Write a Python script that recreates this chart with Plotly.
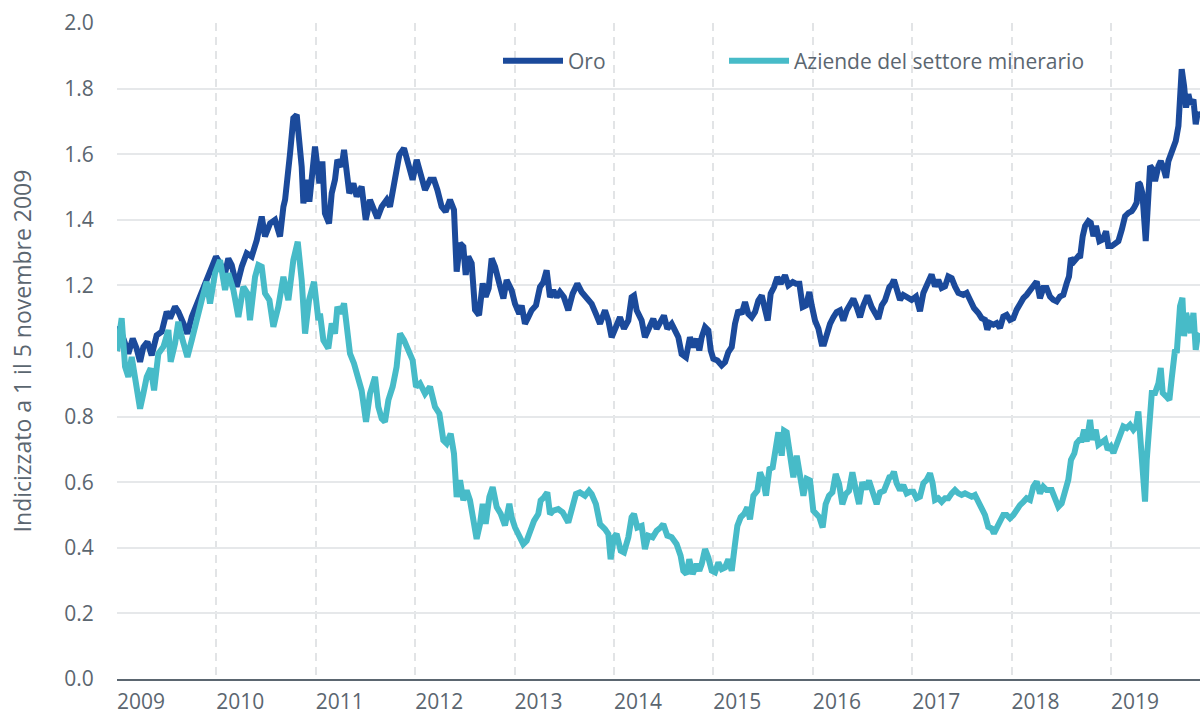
import datetime as dt
import plotly.graph_objects as go

# ---- data (decimal years, index value = 1 on 5 Nov 2009) ----
gold_years = [
    2009.847, 2009.871, 2009.928, 2009.961, 2010.005, 2010.045, 2010.079, 2010.112, 2010.153, 2010.196,
    2010.246, 2010.297, 2010.347, 2010.381, 2010.431, 2010.464, 2010.515, 2010.555, 2010.599, 2010.666,
    2010.716, 2010.766, 2010.817, 2010.843, 2010.884, 2010.934, 2010.967, 2011.001, 2011.051, 2011.102,
    2011.152, 2011.202, 2011.253, 2011.303, 2011.336, 2011.387, 2011.437, 2011.487, 2011.521, 2011.538,
    2011.588, 2011.621, 2011.655, 2011.682, 2011.705, 2011.722, 2011.756, 2011.782, 2011.816, 2011.839,
    2011.883, 2011.913, 2011.939, 2011.980, 2012.007, 2012.040, 2012.064, 2012.107, 2012.131, 2012.157,
    2012.184, 2012.225, 2012.258, 2012.308, 2012.349, 2012.392, 2012.426, 2012.466, 2012.510, 2012.560,
    2012.593, 2012.644, 2012.687, 2012.734, 2012.778, 2012.821, 2012.862, 2012.902, 2012.946, 2012.996,
    2013.036, 2013.070, 2013.113, 2013.153, 2013.197, 2013.237, 2013.264, 2013.298, 2013.331, 2013.355,
    2013.381, 2013.415, 2013.449, 2013.489, 2013.526, 2013.556, 2013.586, 2013.616, 2013.650, 2013.693,
    2013.734, 2013.767, 2013.817, 2013.851, 2013.894, 2013.918, 2013.951, 2013.985, 2014.018, 2014.062,
    2014.102, 2014.136, 2014.169, 2014.203, 2014.236, 2014.270, 2014.303, 2014.343, 2014.387, 2014.431,
    2014.478, 2014.521, 2014.571, 2014.622, 2014.665, 2014.706, 2014.756, 2014.790, 2014.823, 2014.867,
    2014.907, 2014.947, 2014.991, 2015.024, 2015.048, 2015.075, 2015.125, 2015.158, 2015.202, 2015.242,
    2015.276, 2015.316, 2015.349, 2015.383, 2015.427, 2015.460, 2015.494, 2015.527, 2015.571, 2015.611,
    2015.645, 2015.678, 2015.705, 2015.729, 2015.763, 2015.796, 2015.820, 2015.846, 2015.887, 2015.930,
    2015.964, 2015.997, 2016.031, 2016.064, 2016.098, 2016.131, 2016.165, 2016.198, 2016.232, 2016.266,
    2016.299, 2016.333, 2016.366, 2016.393, 2016.423, 2016.457, 2016.490, 2016.524, 2016.567, 2016.601,
    2016.645, 2016.678, 2016.712, 2016.745, 2016.779, 2016.812, 2016.836, 2016.869, 2016.903, 2016.936,
    2016.960, 2016.987, 2017.020, 2017.054, 2017.087, 2017.121, 2017.154, 2017.188, 2017.221, 2017.255,
    2017.288, 2017.322, 2017.355, 2017.396, 2017.439, 2017.473, 2017.506, 2017.540, 2017.573, 2017.617,
    2017.640, 2017.663, 2017.690, 2017.724, 2017.757, 2017.798, 2017.841, 2017.885, 2017.925, 2017.959,
    2017.999, 2018.042, 2018.076, 2018.109, 2018.143, 2018.177, 2018.210, 2018.244, 2018.277, 2018.311,
    2018.361, 2018.395, 2018.428, 2018.468, 2018.512, 2018.545, 2018.579, 2018.602, 2018.629, 2018.663,
    2018.696, 2018.730, 2018.763, 2018.797, 2018.830, 2018.864, 2018.898, 2018.931, 2018.965, 2018.998,
    2019.032, 2019.065, 2019.099, 2019.132, 2019.166, 2019.199, 2019.233, 2019.266, 2019.300, 2019.333,
    2019.367, 2019.401, 2019.424, 2019.444, 2019.474, 2019.518, 2019.535, 2019.562, 2019.586, 2019.619,
    2019.643, 2019.670, 2019.696, 2019.730, 2019.763, 2019.797, 2019.820, 2019.854, 2019.888, 2019.921,
    2019.955, 2019.988, 2020.022, 2020.055, 2020.079, 2020.105, 2020.122, 2020.139, 2020.162, 2020.179,
    2020.196, 2020.213, 2020.240, 2020.267, 2020.290, 2020.324, 2020.347, 2020.374, 2020.401, 2020.424,
    2020.451, 2020.474, 2020.498, 2020.525, 2020.541, 2020.558, 2020.582, 2020.602, 2020.625, 2020.649,
    2020.676, 2020.699, 2020.719, 2020.736,
]
gold_values = [
    1.000, 1.074, 1.023, 0.992, 1.038, 1.007, 0.967, 1.012, 1.028, 0.987,
    1.048, 1.059, 1.120, 1.100, 1.135, 1.120, 1.084, 1.053, 1.104, 1.155,
    1.196, 1.237, 1.267, 1.288, 1.267, 1.237, 1.282, 1.262, 1.196, 1.257,
    1.298, 1.288, 1.338, 1.410, 1.349, 1.389, 1.400, 1.349, 1.440, 1.461,
    1.603, 1.710, 1.720, 1.654, 1.562, 1.450, 1.522, 1.455, 1.573, 1.623,
    1.511, 1.578, 1.420, 1.389, 1.481, 1.522, 1.583, 1.562, 1.613, 1.532,
    1.481, 1.511, 1.471, 1.501, 1.400, 1.461, 1.440, 1.405, 1.440, 1.461,
    1.440, 1.542, 1.598, 1.618, 1.562, 1.522, 1.583, 1.542, 1.491, 1.522,
    1.522, 1.491, 1.440, 1.425, 1.461, 1.430, 1.242, 1.328, 1.318, 1.232,
    1.288, 1.267, 1.125, 1.109, 1.206, 1.165, 1.191, 1.282, 1.257, 1.206,
    1.160, 1.216, 1.185, 1.144, 1.113, 1.139, 1.083, 1.103, 1.124, 1.139,
    1.195, 1.210, 1.246, 1.164, 1.185, 1.164, 1.180, 1.164, 1.124, 1.175,
    1.205, 1.180, 1.164, 1.144, 1.113, 1.083, 1.124, 1.093, 1.042, 1.073,
    1.103, 1.068, 1.093, 1.164, 1.169, 1.124, 1.093, 1.042, 1.078, 1.098,
    1.068, 1.088, 1.108, 1.068, 1.083, 1.063, 1.042, 0.991, 0.981, 1.042,
    1.012, 1.037, 1.002, 1.042, 1.073, 1.063, 1.002, 0.976, 0.971, 0.956,
    0.966, 0.997, 1.012, 1.083, 1.124, 1.113, 1.149, 1.113, 1.103, 1.119,
    1.154, 1.169, 1.129, 1.093, 1.175, 1.195, 1.225, 1.205, 1.231, 1.200,
    1.210, 1.205, 1.205, 1.134, 1.139, 1.180, 1.139, 1.093, 1.068, 1.022,
    1.022, 1.052, 1.083, 1.103, 1.119, 1.124, 1.093, 1.124, 1.139, 1.159,
    1.134, 1.103, 1.139, 1.169, 1.134, 1.113, 1.098, 1.139, 1.154, 1.195,
    1.202, 1.217, 1.182, 1.156, 1.171, 1.161, 1.156, 1.166, 1.121, 1.177,
    1.207, 1.233, 1.197, 1.217, 1.192, 1.197, 1.227, 1.222, 1.197, 1.177,
    1.171, 1.177, 1.156, 1.131, 1.116, 1.100, 1.095, 1.065, 1.085, 1.080,
    1.085, 1.070, 1.105, 1.110, 1.095, 1.100, 1.126, 1.146, 1.161, 1.171,
    1.187, 1.197, 1.212, 1.161, 1.192, 1.192, 1.166, 1.156, 1.151, 1.166,
    1.171, 1.207, 1.227, 1.283, 1.273, 1.289, 1.284, 1.350, 1.381, 1.396,
    1.391, 1.350, 1.381, 1.335, 1.340, 1.365, 1.320, 1.320, 1.330, 1.335,
    1.370, 1.411, 1.421, 1.426, 1.437, 1.452, 1.513, 1.508, 1.482, 1.411,
    1.335, 1.421, 1.564, 1.554, 1.518, 1.564, 1.579, 1.559, 1.528, 1.579,
    1.605, 1.630, 1.640, 1.686, 1.767, 1.859, 1.808, 1.742, 1.783, 1.752,
    1.767, 1.691, 1.727, 1.717,
]

miners_years = [
    2009.847, 2009.894, 2009.928, 2009.961, 2009.995, 2010.029, 2010.079, 2010.112, 2010.146, 2010.186,
    2010.220, 2010.263, 2010.314, 2010.364, 2010.387, 2010.431, 2010.464, 2010.498, 2010.555, 2010.599,
    2010.649, 2010.699, 2010.749, 2010.783, 2010.833, 2010.884, 2010.934, 2010.967, 2011.018, 2011.068,
    2011.118, 2011.159, 2011.185, 2011.236, 2011.269, 2011.303, 2011.336, 2011.380, 2011.420, 2011.470,
    2011.521, 2011.571, 2011.621, 2011.665, 2011.705, 2011.739, 2011.779, 2011.829, 2011.873, 2011.889,
    2011.923, 2011.973, 2012.007, 2012.040, 2012.064, 2012.097, 2012.131, 2012.157, 2012.191, 2012.231,
    2012.275, 2012.308, 2012.352, 2012.392, 2012.443, 2012.476, 2012.510, 2012.543, 2012.577, 2012.620,
    2012.660, 2012.694, 2012.734, 2012.778, 2012.821, 2012.855, 2012.895, 2012.946, 2012.996, 2013.046,
    2013.090, 2013.130, 2013.163, 2013.204, 2013.237, 2013.264, 2013.298, 2013.331, 2013.365, 2013.398,
    2013.432, 2013.465, 2013.499, 2013.526, 2013.556, 2013.593, 2013.626, 2013.667, 2013.707, 2013.750,
    2013.794, 2013.817, 2013.851, 2013.894, 2013.934, 2013.968, 2014.001, 2014.042, 2014.085, 2014.109,
    2014.142, 2014.176, 2014.203, 2014.236, 2014.286, 2014.330, 2014.387, 2014.431, 2014.464, 2014.504,
    2014.555, 2014.595, 2014.622, 2014.665, 2014.706, 2014.756, 2014.790, 2014.813, 2014.846, 2014.873,
    2014.914, 2014.947, 2014.991, 2015.024, 2015.048, 2015.081, 2015.125, 2015.158, 2015.192, 2015.236,
    2015.276, 2015.316, 2015.343, 2015.383, 2015.427, 2015.477, 2015.517, 2015.544, 2015.577, 2015.604,
    2015.638, 2015.678, 2015.705, 2015.729, 2015.763, 2015.796, 2015.830, 2015.863, 2015.897, 2015.930,
    2015.964, 2015.997, 2016.031, 2016.064, 2016.088, 2016.121, 2016.155, 2016.188, 2016.215, 2016.249,
    2016.289, 2016.316, 2016.349, 2016.376, 2016.410, 2016.443, 2016.477, 2016.500, 2016.534, 2016.557,
    2016.584, 2016.618, 2016.651, 2016.685, 2016.718, 2016.752, 2016.785, 2016.819, 2016.852, 2016.886,
    2016.913, 2016.946, 2016.976, 2017.010, 2017.044, 2017.077, 2017.111, 2017.144, 2017.178, 2017.211,
    2017.245, 2017.278, 2017.312, 2017.345, 2017.379, 2017.412, 2017.446, 2017.489, 2017.523, 2017.563,
    2017.617, 2017.640, 2017.663, 2017.690, 2017.724, 2017.757, 2017.791, 2017.824, 2017.858, 2017.891,
    2017.925, 2017.959, 2017.992, 2018.026, 2018.052, 2018.076, 2018.109, 2018.143, 2018.177, 2018.210,
    2018.244, 2018.277, 2018.311, 2018.344, 2018.378, 2018.411, 2018.445, 2018.478, 2018.512, 2018.545,
    2018.579, 2018.612, 2018.646, 2018.669, 2018.696, 2018.730, 2018.763, 2018.797, 2018.830, 2018.864,
    2018.898, 2018.931, 2018.965, 2018.998, 2019.032, 2019.065, 2019.099, 2019.132, 2019.166, 2019.199,
    2019.250, 2019.283, 2019.317, 2019.350, 2019.384, 2019.417, 2019.444, 2019.478, 2019.501, 2019.528,
    2019.552, 2019.576, 2019.602, 2019.636, 2019.659, 2019.693, 2019.720, 2019.753, 2019.787, 2019.814,
    2019.844, 2019.871, 2019.904, 2019.938, 2019.971, 2020.005, 2020.038, 2020.072, 2020.099, 2020.122,
    2020.139, 2020.156, 2020.173, 2020.189, 2020.206, 2020.233, 2020.257, 2020.290, 2020.324, 2020.347,
    2020.367, 2020.401, 2020.434, 2020.458, 2020.491, 2020.508, 2020.525, 2020.541, 2020.565, 2020.582,
    2020.602, 2020.625, 2020.649, 2020.676, 2020.699, 2020.719, 2020.736,
]
miners_values = [
    1.000, 1.100, 0.952, 0.921, 0.982, 0.911, 0.824, 0.870, 0.921, 0.947,
    0.880, 0.992, 1.013, 1.064, 0.967, 1.023, 1.089, 1.043, 0.982, 1.033,
    1.104, 1.155, 1.211, 1.145, 1.237, 1.277, 1.186, 1.237, 1.186, 1.104,
    1.196, 1.176, 1.094, 1.226, 1.262, 1.257, 1.176, 1.155, 1.074, 1.135,
    1.226, 1.155, 1.277, 1.333, 1.216, 1.053, 1.155, 1.211, 1.094, 1.114,
    1.033, 1.008, 1.084, 1.053, 1.135, 1.114, 1.145, 1.074, 0.992, 0.962,
    0.911, 0.880, 0.784, 0.870, 0.921, 0.830, 0.794, 0.784, 0.850, 0.891,
    0.952, 1.053, 1.033, 1.003, 0.972, 0.891, 0.901, 0.870, 0.891, 0.830,
    0.809, 0.728, 0.718, 0.748, 0.687, 0.555, 0.606, 0.545, 0.575, 0.545,
    0.483, 0.427, 0.473, 0.534, 0.473, 0.555, 0.585, 0.524, 0.504, 0.468,
    0.534, 0.493, 0.462, 0.432, 0.411, 0.421, 0.452, 0.482, 0.503, 0.544,
    0.554, 0.569, 0.503, 0.513, 0.518, 0.508, 0.477, 0.533, 0.564, 0.569,
    0.559, 0.574, 0.564, 0.533, 0.472, 0.457, 0.442, 0.365, 0.432, 0.442,
    0.391, 0.386, 0.432, 0.493, 0.503, 0.462, 0.467, 0.396, 0.437, 0.432,
    0.452, 0.462, 0.472, 0.437, 0.432, 0.411, 0.376, 0.330, 0.320, 0.365,
    0.320, 0.350, 0.330, 0.350, 0.396, 0.370, 0.330, 0.325, 0.355, 0.335,
    0.340, 0.365, 0.330, 0.411, 0.467, 0.493, 0.503, 0.523, 0.487, 0.559,
    0.574, 0.630, 0.605, 0.559, 0.640, 0.645, 0.717, 0.752, 0.681, 0.757,
    0.752, 0.676, 0.615, 0.681, 0.615, 0.559, 0.610, 0.605, 0.513, 0.503,
    0.493, 0.462, 0.533, 0.559, 0.569, 0.625, 0.595, 0.533, 0.564, 0.574,
    0.630, 0.579, 0.533, 0.600, 0.579, 0.605, 0.569, 0.533, 0.569, 0.574,
    0.615, 0.617, 0.632, 0.597, 0.576, 0.591, 0.566, 0.571, 0.571, 0.551,
    0.556, 0.597, 0.607, 0.627, 0.597, 0.546, 0.551, 0.540, 0.551, 0.551,
    0.566, 0.576, 0.566, 0.561, 0.566, 0.561, 0.556, 0.561, 0.540, 0.525,
    0.500, 0.464, 0.459, 0.444, 0.459, 0.474, 0.500, 0.500, 0.490, 0.500,
    0.520, 0.530, 0.540, 0.551, 0.546, 0.586, 0.602, 0.566, 0.586, 0.576,
    0.576, 0.546, 0.525, 0.535, 0.566, 0.607, 0.668, 0.688, 0.719, 0.729,
    0.729, 0.760, 0.724, 0.790, 0.729, 0.760, 0.714, 0.724, 0.729, 0.699,
    0.709, 0.689, 0.719, 0.740, 0.770, 0.765, 0.775, 0.760, 0.770, 0.816,
    0.729, 0.668, 0.556, 0.541, 0.668, 0.780, 0.872, 0.872, 0.902, 0.948,
    0.872, 0.862, 0.851, 0.918, 1.004, 0.994, 1.045, 1.136, 1.162, 1.045,
    1.116, 1.075, 1.055, 1.116, 1.004, 1.045, 1.055,
]

tick_labels = ["2009", "2010", "2011", "2012", "2013", "2014", "2015", "2016", "2017", "2018", "2019"]
y_ticks = [0.0, 0.2, 0.4, 0.6, 0.8, 1.0, 1.2, 1.4, 1.6, 1.8, 2.0]

series_names = ["Oro", "Aziende del settore minerario"]
series_colors = ["#1b4a9b", "#47bbc8"]

BASE_DATE = dt.datetime(2009, 11, 5)
BASE_YEAR = 2009.847


def to_date(y):
    return BASE_DATE + dt.timedelta(days=(y - BASE_YEAR) * 365.25)


gold_dates = [to_date(y) for y in gold_years]
miners_dates = [to_date(y) for y in miners_years]
tick_dates = [dt.datetime(int(t), 11, 5) for t in tick_labels]

TEXT = "#5b6670"
FONT = "'Open Sans', Lato, sans-serif"
FS = 21

fig = go.Figure()
fig.add_trace(go.Scatter(x=gold_dates, y=gold_values, mode="lines", name=series_names[0],
                         line=dict(color=series_colors[0], width=6), legend="legend"))
fig.add_trace(go.Scatter(x=miners_dates, y=miners_values, mode="lines", name=series_names[1],
                         line=dict(color=series_colors[1], width=6), legend="legend2"))

legend_style = dict(orientation="h", y=0.942, xanchor="left", yanchor="middle",
                    font=dict(size=FS, color=TEXT), itemwidth=60, bgcolor="rgba(0,0,0,0)")

fig.update_layout(
    width=1200, height=715, autosize=False,
    margin=dict(l=117, r=0, t=23, b=36, autoexpand=False),
    paper_bgcolor="white", plot_bgcolor="white",
    font=dict(family=FONT, size=FS, color=TEXT),
    showlegend=True,
    legend=dict(x=0.3518, **legend_style),
    legend2=dict(x=0.5605, **legend_style),
)
fig.update_xaxes(
    type="date", automargin=False,
    range=[BASE_DATE, to_date(2020.742)],
    tickvals=tick_dates, ticktext=tick_labels,
    ticks="", ticklabelshift=24, ticklabelstandoff=3,
    showgrid=True, gridcolor="#e2e4e6", gridwidth=2, griddash="8px,6px",
    showline=True, linecolor=TEXT, linewidth=2,
    zeroline=False, tickfont=dict(size=FS, color=TEXT),
)
fig.update_yaxes(
    automargin=False,
    range=[0, 2.0], tickvals=y_ticks, tickformat=".1f",
    ticks="outside", ticklen=18, tickcolor="rgba(0,0,0,0)", ticklabelstandoff=0,
    showgrid=True, gridcolor="#e6e8ea", gridwidth=2,
    zeroline=False, showline=False,
    tickfont=dict(size=FS, color=TEXT),
    title=dict(text="Indicizzato a 1 il 5 novembre 2009", font=dict(size=23, color=TEXT), standoff=26),
)

# remove the browser's default 8px page margin so the figure fills the window exactly
fig.write_html("out.html", config={"displayModeBar": False},
               post_script="document.body.style.margin='0';")
